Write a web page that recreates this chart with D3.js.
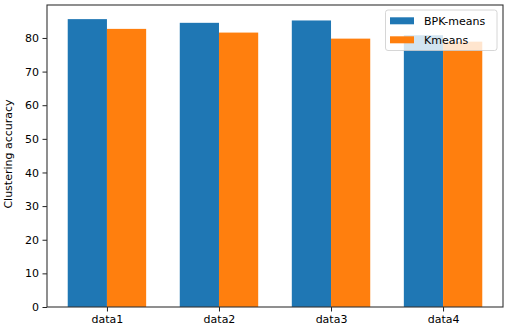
<!DOCTYPE html>
<html><head><meta charset="utf-8">
<script src="https://cdn.jsdelivr.net/npm/d3@7"></script>
<style>body{margin:0;background:#fff}svg{display:block;font-family:"DejaVu Sans",sans-serif}</style>
</head><body><svg id="c" width="510" height="332"></svg>
<script>
const categories = ["data1","data2","data3","data4"];
const seriesNames = ["BPK-means","Kmeans"];
const bpkValues = [85.6, 84.5, 85.2, 80.8];
const kmeansValues = [82.7, 81.6, 79.8, 78.9];
const yTicks = [0,10,20,30,40,50,60,70,80];
const colors = ["#1f77b4","#ff7f0e"];

const svg = d3.select("#c");
const L = 47, R = 503, T = 5, B = 307;
const barW = 0.35;
const FS = 11;
const x = d3.scaleLinear().domain([-0.535, 3.535]).range([L, R]);
const y = d3.scaleLinear().domain([0, 89.8]).range([B, T]);

const series = [bpkValues, kmeansValues];
series.forEach((vals, si) => {
  svg.append("g").selectAll("rect").data(vals).join("rect")
    .attr("x", (d,i) => x(i + (si === 0 ? -barW : 0)))
    .attr("width", (d,i) => x(i + barW) - x(i))
    .attr("y", d => y(d))
    .attr("height", d => y(0) - y(d))
    .attr("fill", colors[si]);
});

const yAxis = d3.axisLeft(y).tickValues(yTicks).tickSize(4.5).tickPadding(3.5).tickFormat(d3.format("d"));
const gy = svg.append("g").attr("transform", `translate(${L},0)`).call(yAxis);
const xAxis = d3.axisBottom(x).tickValues(d3.range(categories.length)).tickSize(4.5).tickPadding(3.5).tickFormat(i => categories[i]);
const gx = svg.append("g").attr("transform", `translate(0,${B})`).call(xAxis);
[gx, gy].forEach(g => {
  g.select(".domain").remove();
  g.selectAll("text").attr("font-size", FS).attr("fill", "#000").attr("font-family", "DejaVu Sans, sans-serif");
  g.selectAll("line").attr("stroke", "#222").attr("stroke-width", 1);
});

svg.append("rect").attr("x", L).attr("y", T).attr("width", R-L).attr("height", B-T)
  .attr("fill", "none").attr("stroke", "#333").attr("stroke-width", 1.1);

svg.append("text").attr("transform", `translate(12,${(T+B)/2 - 2}) rotate(-90)`)
  .attr("text-anchor", "middle").attr("font-size", FS).attr("fill", "#000")
  .text("Clustering accuracy");

const lg = svg.append("g");
lg.append("rect").attr("x", 385.5).attr("y", 10).attr("width", 111.5).attr("height", 40.5)
  .attr("rx", 2.5).attr("fill", "#fff").attr("fill-opacity", 0.8)
  .attr("stroke", "#ccc").attr("stroke-width", 0.8);
seriesNames.forEach((n, i) => {
  lg.append("rect").attr("x", 390).attr("y", 17.3 + i*19).attr("width", 24).attr("height", 7)
    .attr("fill", colors[i]);
  lg.append("text").attr("x", 424).attr("y", 25 + i*19).attr("font-size", FS).attr("fill", "#000").text(n);
});
</script></body></html>
